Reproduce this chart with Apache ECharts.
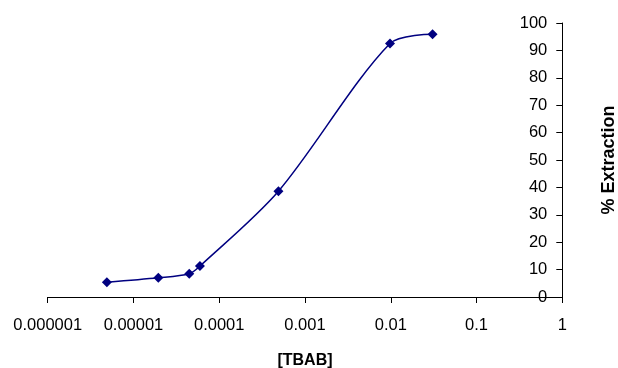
<!DOCTYPE html>
<html>
<head>
<meta charset="utf-8">
<script src="https://cdn.jsdelivr.net/npm/echarts@6/dist/echarts.min.js"></script>
<style>
html,body{margin:0;padding:0;background:#fff;}
#chart{width:618px;height:368px;}
</style>
</head>
<body>
<div id="chart"></div>
<script>
var tbab = [0.0000049, 0.0000195, 0.0000447, 0.0000596, 0.00049, 0.0098, 0.0307];
var extraction = [5.4, 7.0, 8.5, 11.3, 38.6, 92.5, 95.9];
var xTickLabels = ['0.000001', '0.00001', '0.0001', '0.001', '0.01', '0.1', '1'];
var xTitle = '[TBAB]';
var yTitle = '% Extraction';

var chart = echarts.init(document.getElementById('chart'), null, {renderer: 'canvas'});
var font = '"Liberation Sans", Arial, sans-serif';
chart.setOption({
  backgroundColor: '#ffffff',
  animation: false,
  grid: {left: 47.7, right: 55.7, top: 23, bottom: 71, containLabel: false, outerBoundsMode: 'none'},
  xAxis: {
    type: 'log',
    logBase: 10,
    min: 0.000001,
    max: 1,
    name: xTitle,
    nameLocation: 'middle',
    nameGap: 56,
    nameTextStyle: {fontFamily: font, fontSize: 16, fontWeight: 'bold', color: '#000', verticalAlign: 'top'},
    axisLine: {show: true, lineStyle: {color: '#000', width: 1}},
    axisTick: {show: true, inside: false, length: 6, lineStyle: {color: '#000'}},
    axisLabel: {
      margin: 20,
      fontFamily: font, fontSize: 16.5, color: '#000',
      formatter: function (v) {
        var i = Math.round(Math.log10(v)) + 6;
        return xTickLabels[i] !== undefined ? xTickLabels[i] : '';
      }
    },
    splitLine: {show: false},
    minorTick: {show: false}
  },
  yAxis: {
    type: 'value',
    position: 'right',
    min: 0,
    max: 100,
    interval: 10,
    name: yTitle,
    nameLocation: 'middle',
    nameRotate: 90,
    nameGap: 38,
    nameTextStyle: {fontFamily: font, fontSize: 18, fontWeight: 'bold', color: '#000'},
    axisLine: {show: true, onZero: false, lineStyle: {color: '#000', width: 1}},
    axisTick: {show: true, inside: true, length: 6, lineStyle: {color: '#000'}},
    axisLabel: {inside: true, margin: 15, fontFamily: font, fontSize: 16.5, color: '#000'},
    splitLine: {show: false}
  },
  series: [{
    type: 'line',
    data: tbab.map(function (x, i) { return [x, extraction[i]]; }),
    smooth: 0.3,
    symbol: 'diamond',
    symbolSize: 10,
    itemStyle: {color: '#000080'},
    lineStyle: {color: '#000080', width: 1.5}
  }]
});
</script>
</body>
</html>
